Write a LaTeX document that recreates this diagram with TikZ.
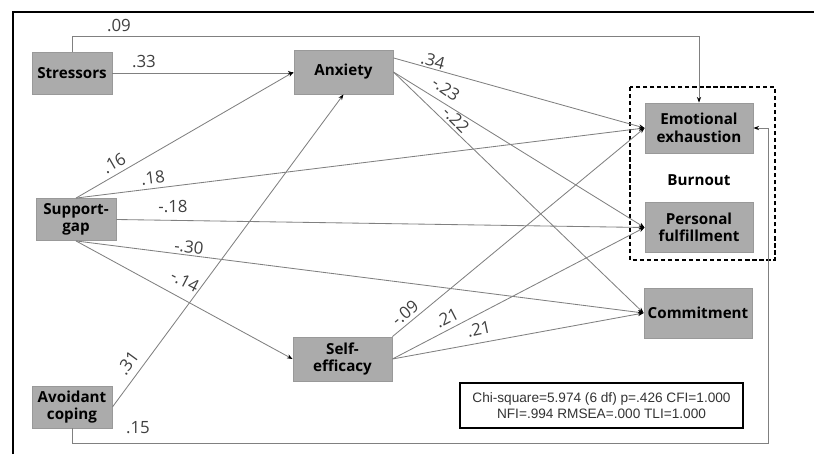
\documentclass[tikz,border=0pt]{standalone}
\usepackage{fontspec}
\setmainfont{Open Sans}
\newfontfamily\fitfont{Liberation Sans}
\usetikzlibrary{arrows.meta}

\begin{document}
\begin{tikzpicture}[x=0.025cm, y=-0.025cm,
  var/.style={draw=gray!80, fill=black!33, line width=0.6pt, minimum width=2cm, minimum height=1.05cm,
    align=center, inner sep=1pt, font=\fontsize{10.8}{12.5}\selectfont\bfseries},
  med/.style={var, minimum width=2.475cm, minimum height=1.1cm},
  outcome/.style={var, minimum width=2.7cm, minimum height=1.25cm},
  link/.style={draw=gray, line width=0.6pt, -{Stealth[length=4pt, width=3pt, black]}},
  coef/.style={font=\fontsize{12}{13}\selectfont, text=black!75, inner sep=0pt}]
  \useasboundingbox (0,0) rectangle (814,454);
  \draw[line width=1.5pt] (13,454) -- (13,12) -- (814,12);
  % variables
  \node[var] (str) at (72,73) {Stressors};
  \node[med] (anx) at (343.5,72) {Anxiety};
  \node[var] (sg) at (76,219.5) {Support-\\gap};
  \node[med] (se) at (342.5,359) {Self-\\efficacy};
  \node[var] (ac) at (72,407) {Avoidant\\coping};
  \node[outcome] (ee) at (699,128) {Emotional\\exhaustion};
  \node[outcome] (pf) at (699,227.5) {Personal\\fulfillment};
  \node[outcome] (com) at (698,313) {Commitment};
  \node[font=\fontsize{10.8}{12}\selectfont\bfseries] (burn) at (699,180) {Burnout};
  \draw[line width=0.9pt, dash pattern=on 3pt off 2pt] (630,87) rectangle (775,260);
  \node[draw, line width=1.4pt, minimum width=7.075cm, minimum height=1.125cm, align=center,
    font=\fitfont\fontsize{9.7}{11}\selectfont, text=black!80] (fit) at (601.5,405.5)
    {Chi-square=5.974 (6 df) p=.426 CFI=1.000\\NFI=.994 RMSEA=.000 TLI=1.000};
  \coordinate (ctop) at (699,36);
  \coordinate (cbot) at (768,443);
  % paths
  \draw[link] (str.north) |- (ctop) -- (ee.north);
  \draw[link] (str.east) -- (str.east -| anx.west);
  \draw[link] (sg.north) -- (anx.west);
  \draw[link] (sg.north) -- (ee.west);
  \draw[link] (sg.east) -- (pf.west);
  \draw[link] (sg.south) -- (com.west);
  \draw[link] (sg.south) -- (se.west);
  \draw[link] (ac.east) -- (anx.south);
  \draw[link] (ac.south) |- (cbot) |- (ee.east);
  \draw[link] ([yshift=10pt]anx.east) -- (ee.west);
  \draw[link] (anx.east) -- (pf.west);
  \draw[link] (anx.east) -- (com.west);
  \draw[link] (se.north east) -- (ee.west);
  \draw[link] (se.east) -- (pf.west);
  \draw[link] (se.east) -- (com.west);
  % coefficients
  \node[coef] (c09) at (119,25) {.09};
  \node[coef] (c33) at (144,62) {.33};
  \node[coef, rotate=30] (c16) at (114,163) {.16};
  \node[coef, rotate=7] (c18) at (153,178) {.18};
  \node[coef] (cm18) at (173,207) {-.18};
  \node[coef, rotate=-7] (cm30) at (189,247) {-.30};
  \node[coef, rotate=-27] (cm14) at (185,281) {-.14};
  \node[coef, rotate=54] (c31) at (128,363) {.31};
  \node[coef] (c15) at (138,428) {.15};
  \node[coef, rotate=-15] (c34) at (433,61) {.34};
  \node[coef, rotate=-35] (cm23) at (446,89) {-.23};
  \node[coef, rotate=-45] (cm22) at (456,120) {-.22};
  \node[coef, rotate=40] (cm09) at (405,313) {-.09};
  \node[coef, rotate=27] (c21a) at (447,318) {.21};
  \node[coef, rotate=12] (c21b) at (479,329) {.21};
\end{tikzpicture}
\end{document}
